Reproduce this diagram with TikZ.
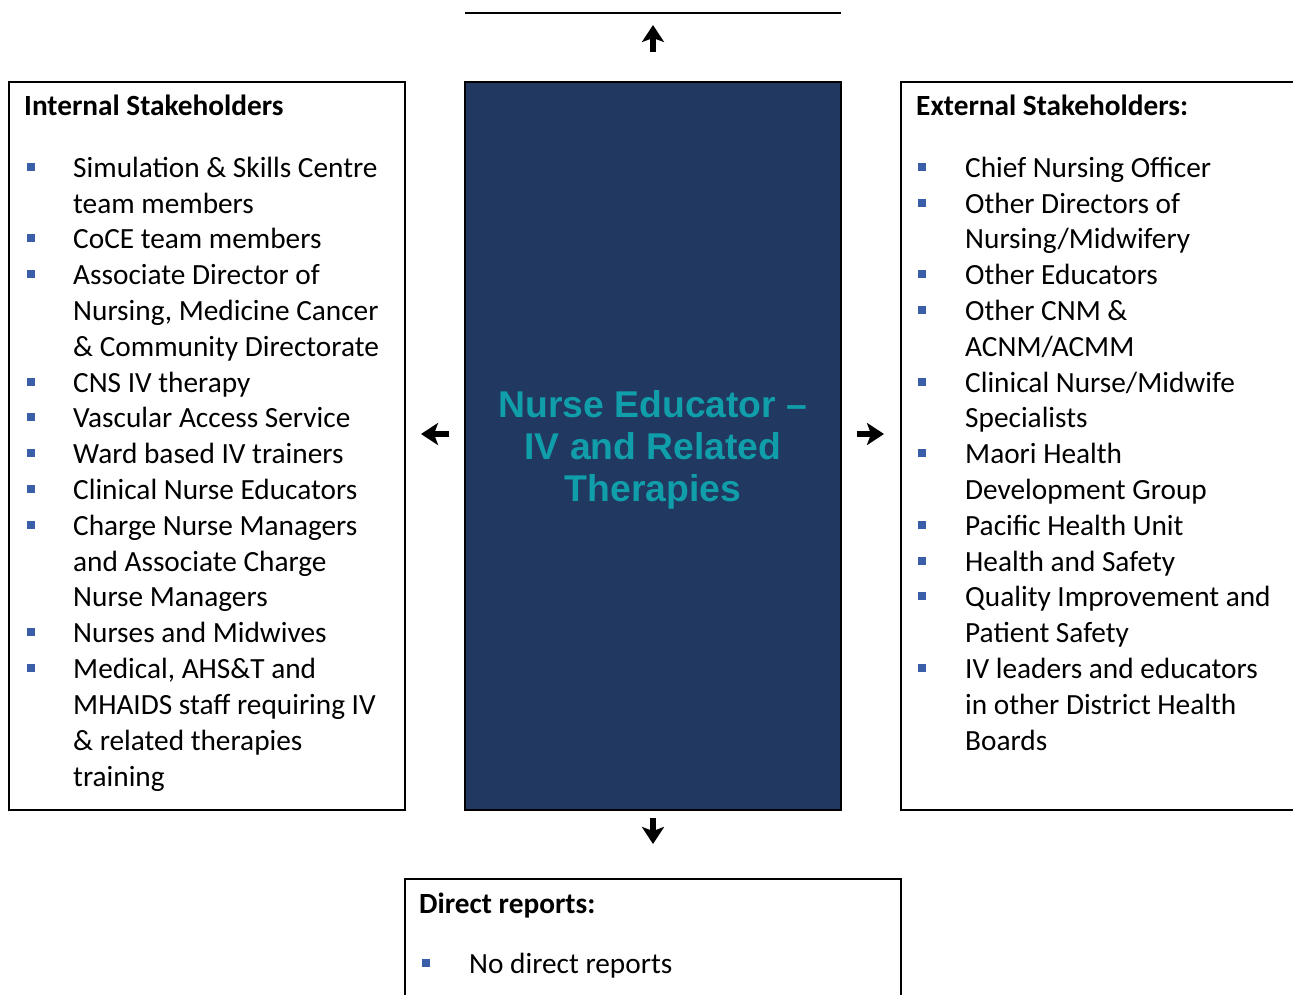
\documentclass[tikz,border=0pt]{standalone}
\usepackage{fontspec}
\setmainfont{Carlito}
\newfontfamily\titlefont{Liberation Sans}
\usetikzlibrary{arrows.meta}
\definecolor{navy}{RGB}{33,56,96}
\definecolor{teal2}{RGB}{16,158,170}
\definecolor{bulcol}{RGB}{58,95,168}
\tikzset{
  row/.style={anchor=base west, inner sep=0pt, font=\fontsize{29.3}{35.8}\selectfont},
  headrow/.style={anchor=base west, inner sep=0pt, font=\fontsize{29.3}{35.8}\selectfont\bfseries},
  bul/.style={rectangle, fill=bulcol, minimum size=8pt, inner sep=0pt},
  box/.style={rectangle, draw=black, line width=2pt, inner sep=0pt},
  arr/.style={line width=5.5pt, -{Stealth[width=22pt,length=17pt,inset=4pt]}}
}
\begin{document}
\begin{tikzpicture}[x=1pt,y=-1pt]
\useasboundingbox (0,0) rectangle (1293,994);
\clip (0,0) rectangle (1293,994);
\fill[white] (0,0) rectangle (1293,994);

% top edge of box above
\draw[line width=2pt] (465,13) -- (841,13);

% boxes
\node[box, minimum width=396pt, minimum height=728pt] (lbox) at (207,446) {};
\node[box, fill=navy, minimum width=376pt, minimum height=728pt] (cbox) at (653,446) {};
\node[box, minimum width=400pt, minimum height=728pt] (rbox) at (1101,446) {};
\node[box, minimum width=496pt, minimum height=200pt] (bbox) at (653,979) {};

% title
\node[inner sep=0pt, align=center, text=teal2, font=\titlefont\bfseries\fontsize{37.3}{42}\selectfont] (title) at (653,449.5)
  {Nurse Educator –\\IV and Related\\Therapies};

% arrows
\coordinate (ua) at (653,52); \coordinate (ub) at (653,25);
\coordinate (da) at (653,818); \coordinate (db) at (653,844);
\coordinate (la) at (449,434); \coordinate (lb) at (421,434);
\coordinate (ra) at (857,434); \coordinate (rb) at (884,434);
\draw[arr] (ua) -- (ub);
\draw[arr] (da) -- (db);
\draw[arr] (la) -- (lb);
\draw[arr] (ra) -- (rb);

% left box
\node[headrow] (lh) at (24,115) {Internal Stakeholders};
\node[row] (l1) at (73,177) {Simulation \& Skills Centre};
\node[row] (l2) at (73,213) {team members};
\node[row] (l3) at (73,248) {CoCE team members};
\node[row] (l4) at (73,284) {Associate Director of};
\node[row] (l5) at (73,320) {Nursing, Medicine Cancer};
\node[row] (l6) at (73,356) {\& Community Directorate};
\node[row] (l7) at (73,392) {CNS IV therapy};
\node[row] (l8) at (73,427) {Vascular Access Service};
\node[row] (l9) at (73,463) {Ward based IV trainers};
\node[row] (l10) at (73,499) {Clinical Nurse Educators};
\node[row] (l11) at (73,535) {Charge Nurse Managers};
\node[row] (l12) at (73,571) {and Associate Charge};
\node[row] (l13) at (73,606) {Nurse Managers};
\node[row] (l14) at (73,642) {Nurses and Midwives};
\node[row] (l15) at (73,678) {Medical, AHS\&T and};
\node[row] (l16) at (73,714) {MHAIDS staff requiring IV};
\node[row] (l17) at (73,750) {\& related therapies};
\node[row] (l18) at (73,786) {training};
\foreach \yy [count=\i] in {177,248,284,392,427,463,499,535,642,678}
  \node[bul] (lb\i) at (31,\yy-10) {};

% right box
\node[headrow] (rh) at (916,115) {External Stakeholders:};
\node[row] (r1) at (965,177) {Chief Nursing Officer};
\node[row] (r2) at (965,213) {Other Directors of};
\node[row] (r3) at (965,248) {Nursing/Midwifery};
\node[row] (r4) at (965,284) {Other Educators};
\node[row] (r5) at (965,320) {Other CNM \&};
\node[row] (r6) at (965,356) {ACNM/ACMM};
\node[row] (r7) at (965,392) {Clinical Nurse/Midwife};
\node[row] (r8) at (965,427) {Specialists};
\node[row] (r9) at (965,463) {Maori Health};
\node[row] (r10) at (965,499) {Development Group};
\node[row] (r11) at (965,535) {Pacific Health Unit};
\node[row] (r12) at (965,571) {Health and Safety};
\node[row] (r13) at (965,606) {Quality Improvement and};
\node[row] (r14) at (965,642) {Patient Safety};
\node[row] (r15) at (965,678) {IV leaders and educators};
\node[row] (r16) at (965,714) {in other District Health};
\node[row] (r17) at (965,750) {Boards};
\foreach \yy [count=\i] in {177,213,284,320,392,463,535,571,606,678}
  \node[bul] (rb\i) at (922,\yy-10) {};

% bottom box
\node[headrow] (bh) at (419,913) {Direct reports:};
\node[row] (b1) at (469,973) {No direct reports};
\node[bul] (bb1) at (426,963) {};
\end{tikzpicture}
\end{document}
